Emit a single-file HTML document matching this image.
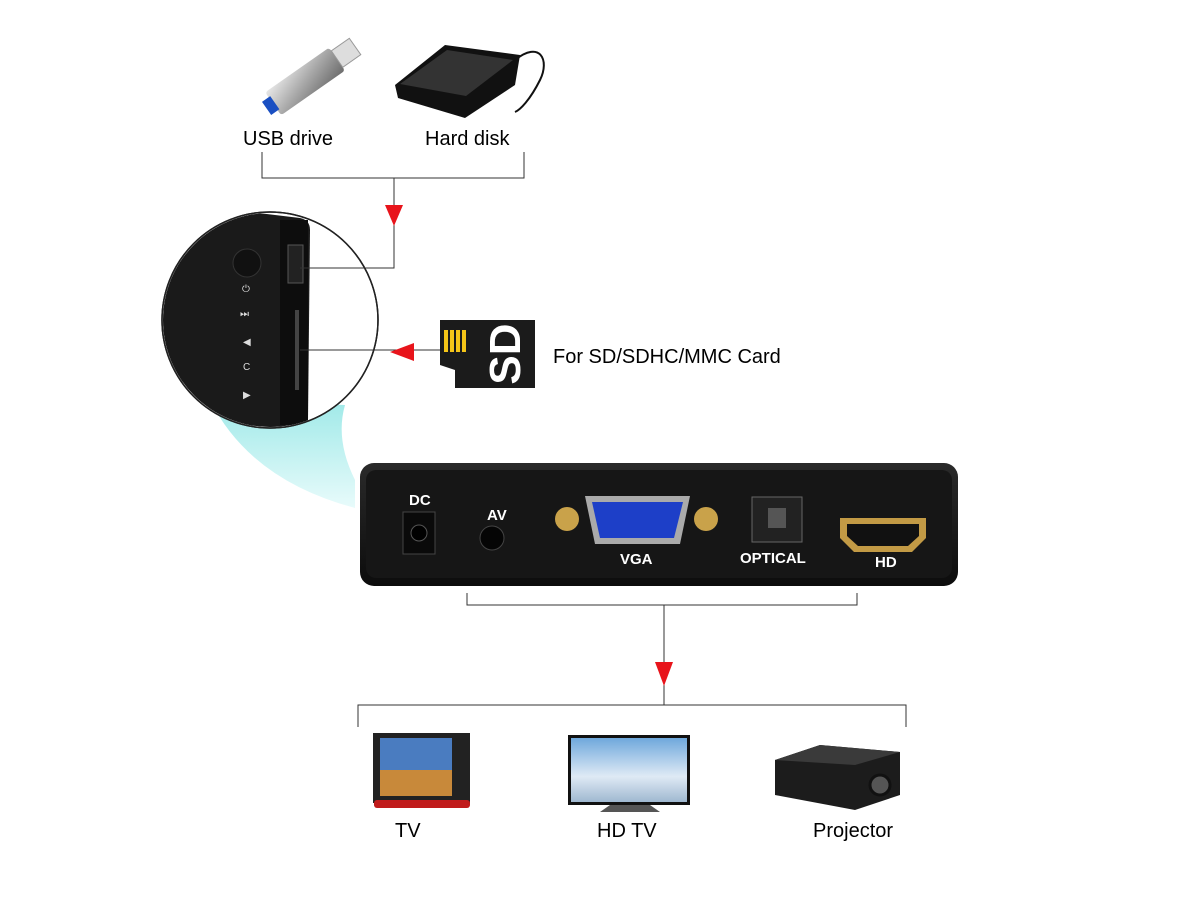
<!DOCTYPE html>
<html><head><meta charset="utf-8"><style>
body{margin:0;background:#fff;width:1200px;height:900px;overflow:hidden;font-family:"Liberation Sans",sans-serif}
</style></head><body>
<svg width="1200" height="900" viewBox="0 0 1200 900" xmlns="http://www.w3.org/2000/svg" style="position:absolute;left:0;top:0">
<defs>
<linearGradient id="usb" x1="0" y1="0" x2="1" y2="1"><stop offset="0" stop-color="#e8e8e8"/><stop offset="0.5" stop-color="#a8a8a8"/><stop offset="1" stop-color="#6c6c6c"/></linearGradient>
<linearGradient id="dev" x1="0" y1="0" x2="0" y2="1"><stop offset="0" stop-color="#2a2a2a"/><stop offset="1" stop-color="#0c0c0c"/></linearGradient>
<linearGradient id="cone" x1="0" y1="0" x2="0" y2="1"><stop offset="0" stop-color="#9fe9e8"/><stop offset="1" stop-color="#e8fbfb"/></linearGradient>
<clipPath id="cc"><circle cx="270" cy="320" r="107"/></clipPath>
<linearGradient id="scr" x1="0" y1="0" x2="0" y2="1"><stop offset="0" stop-color="#6fa8dc"/><stop offset="0.6" stop-color="#dfeaf5"/><stop offset="1" stop-color="#9fb8d0"/></linearGradient>
</defs>
<!-- USB drive -->
<g transform="rotate(-35 310 78)">
<rect x="265" y="64" width="78" height="28" rx="3" fill="url(#usb)"/>
<rect x="343" y="68" width="22" height="20" fill="#ddd" stroke="#999"/>
<rect x="257" y="70" width="10" height="16" fill="#1a4fc2"/>
</g>
<!-- Hard disk -->
<path d="M395 85 L445 45 L520 55 L515 85 L465 118 L398 98 Z" fill="#111"/>
<path d="M400 84 L447 50 L513 60 L466 96 Z" fill="#333"/>
<path d="M515 60 C540 40 550 60 540 80 C530 100 520 110 515 112" fill="none" stroke="#111" stroke-width="2"/>
<text x="243" y="145" font-size="20">USB drive</text>
<text x="425" y="145" font-size="20">Hard disk</text>
<!-- cone -->
<path d="M210 400 Q250 480 355 508 L355 480 Q335 440 345 405 Z" fill="url(#cone)"/>
<!-- magnified circle -->
<circle cx="270" cy="320" r="108" fill="#fff" stroke="#222" stroke-width="1.5"/>
<g clip-path="url(#cc)">
<path d="M150 200 L300 218 Q310 220 310 230 L308 420 Q305 428 295 428 L150 428 Z" fill="#1a1a1a"/>
<rect x="280" y="220" width="28" height="205" fill="#0d0d0d"/>
<circle cx="247" cy="263" r="14" fill="#111" stroke="#333"/>
<rect x="288" y="245" width="15" height="38" fill="#222" stroke="#555"/>
<rect x="295" y="310" width="4" height="80" fill="#444"/>
<g fill="#ddd" font-size="10"><text x="242" y="292">⏻</text><text x="240" y="317">⏭</text><text x="243" y="345">◀</text><text x="243" y="370">C</text><text x="243" y="398">▶</text></g>
</g>
<circle cx="270" cy="320" r="108" fill="none" stroke="#222" stroke-width="1.5"/>
<!-- connectors -->
<g stroke="#333" stroke-width="1" fill="none">
<path d="M262 152 V178 H524 V152"/>
<path d="M394 178 V268 H300"/>
<path d="M300 350 H440"/>
<path d="M467 593 V605 H857 V593"/>
<path d="M664 605 V705"/>
<path d="M358 727 V705 H906 V727"/>
</g>
<polygon points="385,205 403,205 394,226" fill="#e8141b"/>
<polygon points="390,352 414,343 414,361" fill="#e8141b"/>
<polygon points="655,662 673,662 664,686" fill="#e8141b"/>
<!-- SD card -->
<path d="M440 320 H535 V388 H455 V370 L440 365 Z" fill="#1b1b1b"/>
<g fill="#f5c518"><rect x="444" y="330" width="4" height="22"/><rect x="450" y="330" width="4" height="22"/><rect x="456" y="330" width="4" height="22"/><rect x="462" y="330" width="4" height="22"/></g>
<text x="0" y="0" font-size="44" font-weight="bold" fill="#fff" text-anchor="middle" transform="translate(520 354) rotate(-90)">SD</text>
<text x="553" y="363" font-size="20">For SD/SDHC/MMC Card</text>
<!-- device -->
<rect x="360" y="463" width="598" height="123" rx="14" fill="url(#dev)"/>
<rect x="366" y="470" width="586" height="108" rx="10" fill="#161616"/>
<g fill="#fff" font-weight="bold" font-size="15">
<text x="409" y="505">DC</text><text x="487" y="520">AV</text><text x="620" y="564">VGA</text><text x="740" y="563">OPTICAL</text><text x="875" y="567">HD</text></g>
<rect x="403" y="512" width="32" height="42" fill="#0a0a0a" stroke="#444"/>
<circle cx="419" cy="533" r="8" fill="#000" stroke="#555"/>
<circle cx="492" cy="538" r="12" fill="#050505" stroke="#444"/>
<circle cx="567" cy="519" r="12" fill="#c9a24a"/><circle cx="706" cy="519" r="12" fill="#c9a24a"/>
<path d="M585 496 H690 L680 544 H595 Z" fill="#aaa"/>
<path d="M592 502 H683 L674 538 H600 Z" fill="#1d3fc8"/>
<rect x="752" y="497" width="50" height="45" fill="#222" stroke="#666"/>
<rect x="768" y="508" width="18" height="20" fill="#555"/>
<path d="M840 518 H926 V538 L912 552 H854 L840 538 Z" fill="#c29a45"/>
<path d="M847 524 H919 V536 L908 546 H858 L847 536 Z" fill="#111"/>
<!-- TV -->
<rect x="373" y="733" width="97" height="70" fill="#222"/>
<rect x="380" y="738" width="72" height="58" fill="#4a7cc0"/>
<rect x="380" y="770" width="72" height="26" fill="#c8893a"/>
<rect x="374" y="800" width="96" height="8" rx="3" fill="#c01b1b"/>
<text x="395" y="837" font-size="20">TV</text>
<!-- HD TV -->
<rect x="568" y="735" width="122" height="70" fill="#111"/>
<rect x="571" y="738" width="116" height="64" fill="url(#scr)"/>
<path d="M610 805 L600 812 H660 L650 805" fill="#555"/>
<text x="597" y="837" font-size="20">HD TV</text>
<!-- Projector -->
<path d="M775 760 L820 745 L900 752 L900 795 L855 810 L775 795 Z" fill="#1c1c1c"/>
<path d="M775 760 L820 745 L900 752 L855 765 Z" fill="#3a3a3a"/>
<circle cx="880" cy="785" r="10" fill="#555" stroke="#111" stroke-width="3"/>
<text x="813" y="837" font-size="20">Projector</text>
</svg>
</body></html>
